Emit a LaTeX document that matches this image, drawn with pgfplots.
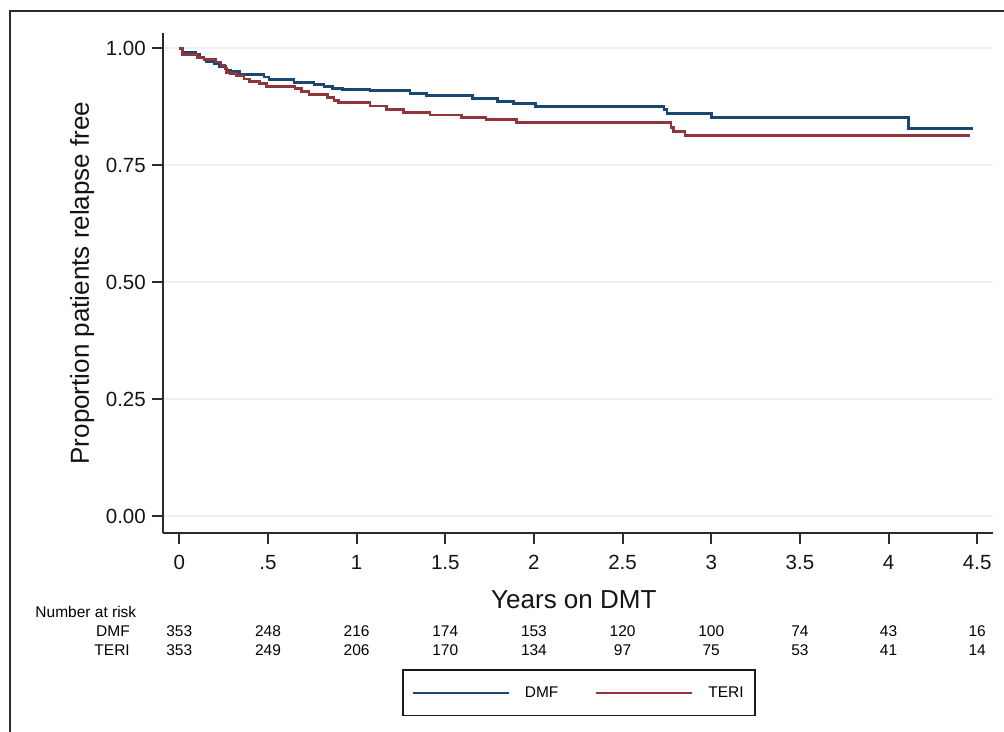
\documentclass[border=0pt]{standalone}
\usepackage{pgfplots}
\pgfplotsset{compat=1.18}
\usepackage{fontspec}
\setmainfont{Liberation Sans}

\definecolor{dmfblue}{HTML}{1A476F}
\definecolor{terired}{HTML}{90353B}
\definecolor{gridc}{HTML}{EAF2F3}
\definecolor{axc}{HTML}{2B2B2B}

% Kaplan-Meier steps (time in years, proportion relapse free)
\pgfplotstableread{
t      s
0      1.000
0.019  0.992
0.094  0.987
0.117  0.9815
0.139  0.976
0.154  0.972
0.196  0.967
0.226  0.9615
0.263  0.954
0.290  0.950
0.338  0.945
0.478  0.939
0.506  0.933
0.647  0.928
0.760  0.923
0.816  0.919
0.863  0.9145
0.920  0.912
1.076  0.9096
1.301  0.9046
1.395  0.8996
1.655  0.8938
1.794  0.8875
1.884  0.8832
2.010  0.8768
2.734  0.869
2.750  0.8618
3.003  0.8533
4.112  0.8284
4.478  0.8284
}\dmf

\pgfplotstableread{
t      s
0      1.000
0.019  0.9865
0.102  0.9815
0.139  0.976
0.207  0.971
0.235  0.964
0.258  0.9565
0.267  0.949
0.286  0.946
0.324  0.942
0.365  0.935
0.395  0.930
0.451  0.9245
0.493  0.9195
0.653  0.914
0.690  0.908
0.732  0.901
0.837  0.8946
0.873  0.889
0.897  0.8853
1.076  0.877
1.170  0.870
1.264  0.864
1.414  0.858
1.593  0.853
1.730  0.8476
1.903  0.842
2.773  0.832
2.785  0.8234
2.852  0.8145
4.460  0.8145
}\teri

\newcommand{\riskfont}{\fontsize{15.5}{18}\selectfont}
% one cell of the number-at-risk table: x position, row y, count
\newcommand{\risk}[3]{\node[anchor=base, font=\riskfont] at (axis cs:#1,#2) {#3};}

\begin{document}
\begin{tikzpicture}
\useasboundingbox (0,0) rectangle (1004pt,-731pt);
\draw[line width=2pt, axc] (10pt,-745pt) -- (10pt,-11pt) -- (1020pt,-11pt);
\begin{axis}[
    at={(163pt,-533pt)}, anchor=south west,
    scale only axis, width=830pt, height=500pt,
    xmin=-0.0919, xmax=4.589, ymin=-0.0353, ymax=1.0331,
    axis x line*=bottom, axis y line*=left,
    axis line style={draw=axc, line width=2pt},
    every tick/.style={draw=axc, line width=2pt},
    tick align=outside, major tick length=11pt,
    xtick={0,0.5,1,1.5,2,2.5,3,3.5,4,4.5},
    xticklabels={0,.5,1,1.5,2,2.5,3,3.5,4,4.5},
    ytick={0,0.25,0.5,0.75,1},
    yticklabels={0.00,0.25,0.50,0.75,1.00},
    ymajorgrids, major grid style={draw=gridc, line width=2pt},
    /pgf/number format/assume math mode=true,
    tick label style={font=\fontsize{20.5}{24}\selectfont, text=black!92, inner sep=0pt},
    xticklabel style={anchor=north, yshift=-11pt},
    yticklabel style={anchor=east, xshift=-6pt},
    xlabel={Years on DMT},
    ylabel={Proportion patients relapse free},
    every axis x label/.style={at={(axis description cs:0.495,-0.1506)}, anchor=base, font=\fontsize{26}{30}\selectfont, text=black!92},
    every axis y label/.style={at={(axis description cs:-0.0892,0.5)}, rotate=90, anchor=base, font=\fontsize{26}{30}\selectfont, text=black!92},
    clip=false,
    legend style={at={(axis description cs:0.288,-0.272)}, anchor=north west,
        draw=black!90, line width=1.6pt, fill=white,
        inner xsep=9pt, inner ysep=15.5pt,
        font=\riskfont, nodes={inner sep=2pt, text depth=0pt},
        /tikz/every odd column/.append style={column sep=13pt},
        /tikz/every even column/.append style={column sep=35pt}},
    legend columns=2,
    legend image code/.code={\draw[#1, line width=2pt] (0pt,0pt) -- (96pt,0pt);},
]
\addplot[const plot, draw=dmfblue, line width=2.8pt] table[x=t, y=s] {\dmf};
\addplot[const plot, draw=terired, line width=2.8pt] table[x=t, y=s] {\teri};
\legend{DMF, TERI}

% number at risk table
\node[anchor=base west, font=\riskfont] at (axis cs:-0.831,-0.2169) {Number at risk};
\node[anchor=base east, font=\riskfont] at (axis cs:-0.2594,-0.2575) {DMF};
\node[anchor=base east, font=\riskfont] at (axis cs:-0.2594,-0.2981) {TERI};
\risk{0}{-0.2575}{353} \risk{0.5}{-0.2575}{248} \risk{1}{-0.2575}{216}
\risk{1.5}{-0.2575}{174} \risk{2}{-0.2575}{153} \risk{2.5}{-0.2575}{120}
\risk{3}{-0.2575}{100} \risk{3.5}{-0.2575}{74} \risk{4}{-0.2575}{43}
\risk{4.5}{-0.2575}{16}
\risk{0}{-0.2981}{353} \risk{0.5}{-0.2981}{249} \risk{1}{-0.2981}{206}
\risk{1.5}{-0.2981}{170} \risk{2}{-0.2981}{134} \risk{2.5}{-0.2981}{97}
\risk{3}{-0.2981}{75} \risk{3.5}{-0.2981}{53} \risk{4}{-0.2981}{41}
\risk{4.5}{-0.2981}{14}
\end{axis}
\end{tikzpicture}
\end{document}
